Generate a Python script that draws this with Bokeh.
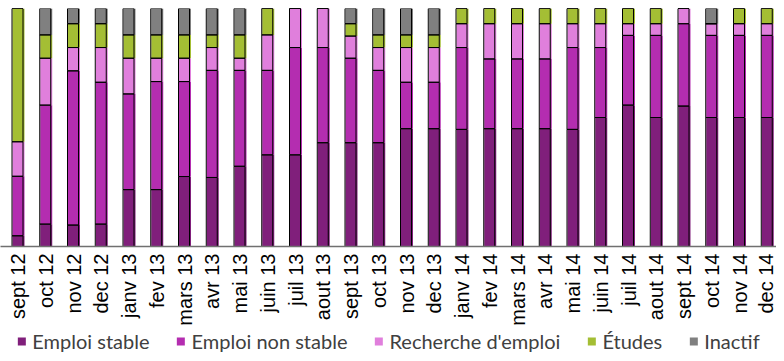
import math
from bokeh.plotting import figure
from bokeh.layouts import column
from bokeh.models import Range1d, FixedTicker, Legend, LegendItem, ColumnDataSource
from bokeh.transform import dodge
from bokeh.embed import file_html
from bokeh.resources import INLINE

months = ["sept 12", "oct 12", "nov 12", "dec 12", "janv 13", "fev 13", "mars 13",
          "avr 13", "mai 13", "juin 13", "juil 13", "aout 13", "sept 13", "oct 13",
          "nov 13", "dec 13", "janv 14", "fev 14", "mars 14", "avr 14", "mai 14",
          "juin 14", "juil 14", "aout 14", "sept 14", "oct 14", "nov 14", "dec 14"]

emploi_stable = [4.5, 9.4, 9.0, 9.4, 23.9, 23.9, 29.4, 29.0, 33.7, 38.5, 38.5, 43.6, 43.6, 43.6,
                 49.5, 49.5, 49.2, 49.5, 49.5, 49.5, 49.2, 54.2, 59.4, 54.2, 59.0, 54.2, 54.2, 54.2]
emploi_non_stable = [25.0, 50.0, 64.8, 59.6, 40.2, 45.4, 39.9, 45.0, 40.3, 35.5, 45.1, 40.0, 35.5, 30.4,
                     19.5, 19.5, 34.4, 29.3, 29.3, 29.3, 34.4, 29.4, 29.3, 34.5, 34.6, 34.5, 34.5, 34.5]
recherche = [14.5, 19.7, 9.8, 14.6, 15.0, 9.8, 9.8, 9.6, 5.1, 14.9, 16.4, 16.4, 9.3, 9.6,
             14.6, 14.6, 10.0, 14.8, 14.8, 14.8, 10.0, 10.0, 4.9, 4.9, 6.4, 4.9, 4.9, 4.9]
etudes = [56.0, 9.8, 10.0, 10.0, 9.8, 9.8, 9.8, 5.3, 9.8, 11.1, 0, 0, 5.2, 5.3,
          5.3, 5.3, 6.4, 6.4, 6.4, 6.4, 6.4, 6.4, 6.4, 6.4, 0, 0, 6.4, 6.4]
inactif = [0, 11.1, 6.4, 6.4, 11.1, 11.1, 11.1, 11.1, 11.1, 0, 0, 0, 6.4, 11.1,
           11.1, 11.1, 0, 0, 0, 0, 0, 0, 0, 0, 0, 6.4, 0, 0]

series = ["Emploi stable", "Emploi non stable", "Recherche d'emploi", "Études", "Inactif"]
colors = ["#801f7b", "#b42db0", "#e07fdc", "#a4be34", "#808080"]
keys = ["s0", "s1", "s2", "s3", "s4"]

source = ColumnDataSource(dict(x=list(range(len(months))), s0=emploi_stable, s1=emploi_non_stable,
                               s2=recherche, s3=etudes, s4=inactif))

W = 776
px = 1.0 / 27.75
x0 = -17.5 * px
p = figure(width=W, height=328, output_backend="svg", toolbar_location=None,
           x_range=Range1d(x0, x0 + W * px), y_range=Range1d(0, 100),
           y_axis_location=None, min_border_left=0, min_border_right=0,
           min_border_top=8, min_border_bottom=82, outline_line_color=None)
p.xgrid.visible = False
p.ygrid.visible = False

p.vbar_stack(keys, x=dodge("x", 0.5 * px), width=12 * px, source=source,
             fill_color=colors, line_color=None)
p.vbar_stack(keys, x=dodge("x", -0.5 * px), width=11 * px, source=source,
             fill_color=None, line_color="black", line_width=1)

ax = p.xaxis[0]
ax.ticker = FixedTicker(ticks=list(range(len(months))))
ax.major_label_overrides = {i: m for i, m in enumerate(months)}
ax.major_label_orientation = math.pi / 2
ax.major_label_text_font = "Liberation Sans"
ax.major_label_text_font_size = "20px"
ax.major_label_text_color = "black"
ax.major_label_standoff = 7
ax.major_tick_line_color = None
ax.minor_tick_line_color = None
ax.major_tick_out = 0
ax.axis_line_color = "#707070"
ax.axis_line_width = 1.5

# legend strip: same stacked bars, kept outside the visible range, used only for the legend
p2 = figure(width=W, height=25, output_backend="svg", toolbar_location=None,
            x_range=Range1d(-20, -19), y_range=Range1d(0, 1),
            x_axis_location=None, y_axis_location=None,
            min_border=0, outline_line_color=None)
p2.xgrid.visible = False
p2.ygrid.visible = False
legend_renderers = p2.vbar_stack(keys, x="x", width=0.4, source=source,
                                 fill_color=colors, line_color=None)
items = [LegendItem(label=name, renderers=[r]) for name, r in zip(series, legend_renderers)]

legend = Legend(items=items, orientation="horizontal", location="center",
                glyph_width=10, glyph_height=10, label_standoff=6, spacing=26,
                padding=0, margin=0, border_line_color=None, background_fill_alpha=0,
                label_text_font="Lato", label_text_font_size="20px",
                label_text_color="#404040")
p2.add_layout(legend, "center")

layout = column(p, p2, spacing=0)
open("out.html", "w").write(file_html(layout, INLINE))
